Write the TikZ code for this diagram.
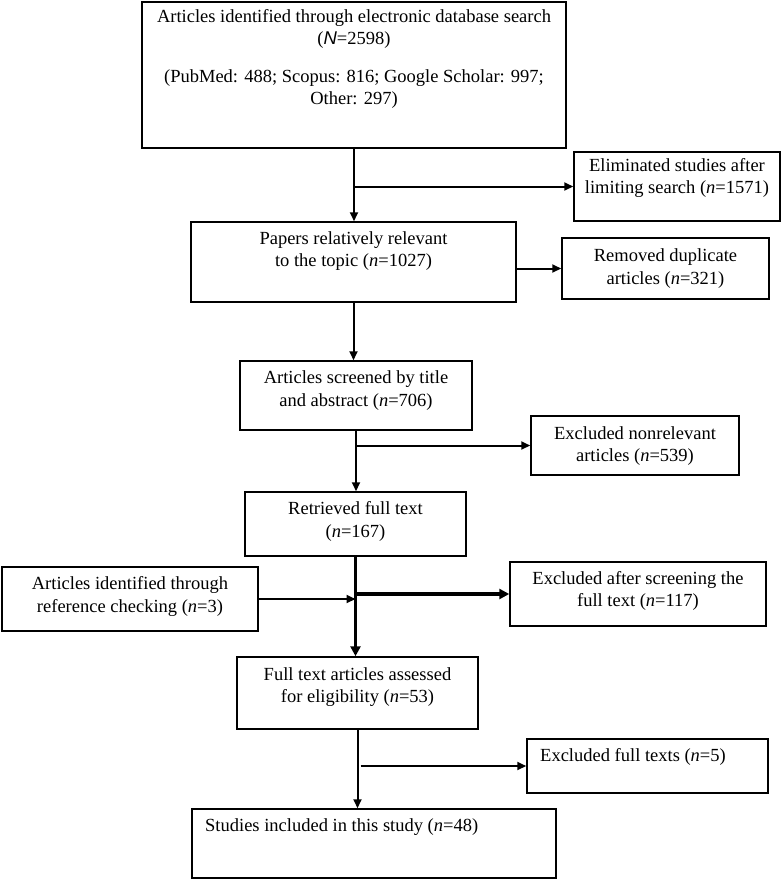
\documentclass[tikz,border=0pt]{standalone}
\usepackage{fontspec}
\setmainfont{Liberation Serif}
\setsansfont{Liberation Sans}
\usetikzlibrary{arrows.meta}
\tikzset{
	box/.style={draw, line width=1.5pt, inner sep=0pt},
	txt/.style={align=center, inner sep=0pt, font=\fontsize{18.5}{22.5}\selectfont},
	arr/.style={-{Triangle[length=9pt,width=8pt]}, line width=2pt},
	thickarr/.style={-{Triangle[length=10pt,width=10pt]}, line width=3.5pt},
}
\begin{document}
\begin{tikzpicture}[x=1pt, y=1pt]
	\useasboundingbox (0,0) rectangle (782,-879);

	\node[box, minimum width=424pt, minimum height=146pt] (src) at (354,-75) {};
	\node[txt] (src-t) at (354,-59) {Articles identified through electronic database search\\ (\textsf{\textit{N}}=2598)\\[15pt] (PubMed: 488; Scopus: 816; Google Scholar: 997;\\ Other: 297)};

	\node[box, minimum width=206pt, minimum height=69pt] (elim) at (677,-186.5) {};
	\node[txt] (elim-t) at (677,-178) {Eliminated studies after\\ limiting search (\textit{n}=1571)};

	\node[box, minimum width=325pt, minimum height=80pt] (papers) at (353.5,-262) {};
	\node[txt] (papers-t) at (353.5,-251) {Papers relatively relevant\\ to the topic (\textit{n}=1027)};

	\node[box, minimum width=207pt, minimum height=61pt] (removed) at (665.5,-268.5) {};
	\node[txt] (removed-t) at (665.5,-268.5) {Removed duplicate\\ articles (\textit{n}=321)};

	\node[box, minimum width=232pt, minimum height=69pt] (screened) at (356,-395.5) {};
	\node[txt] (screened-t) at (356,-390.5) {Articles screened by title\\ and abstract (\textit{n}=706)};

	\node[box, minimum width=208pt, minimum height=59pt] (nonrel) at (635,-445.5) {};
	\node[txt] (nonrel-t) at (635,-446) {Excluded nonrelevant\\ articles (\textit{n}=539)};

	\node[box, minimum width=221pt, minimum height=64pt] (retrieved) at (355.5,-524) {};
	\node[txt] (retrieved-t) at (355.5,-521.5) {Retrieved full text\\ (\textit{n}=167)};

	\node[box, minimum width=256pt, minimum height=64pt] (refchk) at (130,-599) {};
	\node[txt] (refchk-t) at (130,-596.5) {Articles identified through\\ reference checking (\textit{n}=3)};

	\node[box, minimum width=256pt, minimum height=64pt] (exclafter) at (638,-594) {};
	\node[txt] (exclafter-t) at (638,-591) {Excluded after screening the\\ full text (\textit{n}=117)};

	\node[box, minimum width=241pt, minimum height=72pt] (fulltext) at (357.5,-693) {};
	\node[txt] (fulltext-t) at (357.5,-687) {Full text articles assessed\\ for eligibility (\textit{n}=53)};

	\node[box, minimum width=241pt, minimum height=54pt] (exclfull) at (647.5,-766) {};
	\node[txt, anchor=west] (exclfull-t) at (540,-757) {Excluded full texts (\textit{n}=5)};

	\node[box, minimum width=364pt, minimum height=69pt] (studies) at (374,-843.5) {};
	\node[txt, anchor=west] (studies-t) at (205,-827) {Studies included in this study (\textit{n}=48)};

	\draw[arr] (src.south) -- (src.south |- papers.north);
	\draw[arr] (src.south |- elim.west) -- (elim.west);
	\draw[arr] (papers.east |- removed.west) -- (removed.west);
	\draw[arr] (papers.south) -- (papers.south |- screened.north);
	\draw[arr] (screened.south) -- (screened.south |- retrieved.north);
	\draw[arr] (screened.south |- nonrel.west) -- (nonrel.west);
	\draw[thickarr] (retrieved.south) -- (retrieved.south |- fulltext.north);
	\draw[thickarr] (retrieved.south |- exclafter.west) -- (exclafter.west);
	\draw[arr] (refchk.east) -- (refchk.east -| retrieved.south);
	\draw[arr] (fulltext.south) -- (fulltext.south |- studies.north);
	\draw[arr] ([xshift=3pt]fulltext.south |- exclfull.west) -- (exclfull.west);
\end{tikzpicture}
\end{document}
